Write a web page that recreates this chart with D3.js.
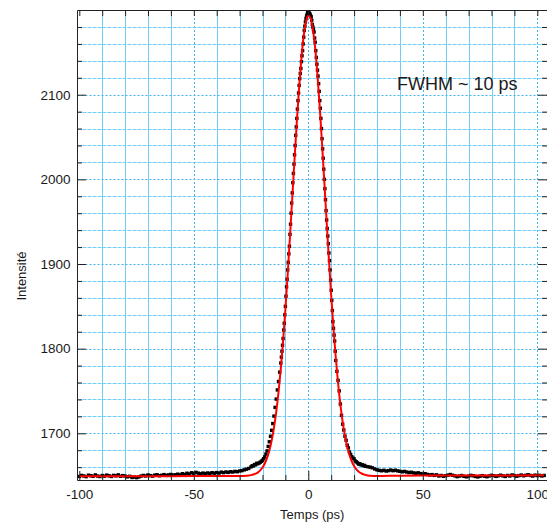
<!DOCTYPE html>
<html>
<head>
<meta charset="utf-8">
<script src="https://cdn.jsdelivr.net/npm/d3@7"></script>
<style>
  html, body { margin: 0; padding: 0; background: #fff; }
  svg { display: block; }
  text { font-family: "Liberation Sans", Arial, sans-serif; fill: #1a1a1a; }
</style>
</head>
<body>
<svg id="chart" width="547" height="525"></svg>
<script>
// ---------------- DATA ----------------
// sampling grid of the measured trace (ps): [start, end, step] per segment
const timeSegments = [[-100, -26, 1], [-25, -12.5, 0.5], [-12, 12, 0.25], [12.5, 25, 0.5], [26, 103, 1]];

// measured intensity, per segment
const baseLeft = [1649.0,1650.2,1649.6,1648.8,1650.5,1649.9,1649.2,1650.8,1649.5,1648.9,
  1650.1,1649.4,1650.6,1649.8,1649.0,1650.3,1649.7,1650.9,1649.3,1650.0,
  1649.5,1648.6,1649.2,1647.8,1648.3,1647.6,1648.4,1649.5,1650.2,1649.6,
  1650.8,1650.0,1649.4,1650.6,1651.0,1649.9,1650.4,1651.2,1650.3,1650.8,
  1651.4,1650.6,1651.0,1651.7,1650.9,1652.3,1651.5,1652.8,1652.0,1653.4,
  1652.6,1653.8,1652.9,1652.2,1653.0,1652.4,1653.1,1652.6,1653.5,1652.9,
  1653.6,1653.0,1654.1,1653.5,1654.3,1653.8,1654.6,1654.2,1655.0,1654.6,
  1655.5,1655.9,1656.8,1657.6,1658.5];
const wingLeft = [1660.4,1661.6,1661.5,1663.1,1662.8,1664.6,1664.0,1664.9,1665.8,1666.9,
  1668.2,1670.0,1672.2,1675.5,1679.2,1684.5,1690.0,1696.5,1703.5,1711.5,
  1720.3,1730.6,1740.4,1751.2,1761.2,1772.2];
const core = [1783,1790,1797,1804,1812,1822,1830,1840,
  1850,1862,1873,1882,1893,1902,1912,1921,
  1935,1947,1960,1972,1984,1996,2007,2018,
  2029,2040,2052,2062,2072,2083,2093,2102,
  2111,2119,2125,2131,2139,2146,2152,2160,
  2168,2176,2181,2186,2190,2193,2195,2197,
  2197,
  2198,2196,2195,2193,2192,2188,2183,2180,
  2177,2174,2167,2162,2152,2144,2136,2129,
  2122,2113,2104,2093,2084,2072,2060,2048,
  2036,2025,2012,2000,1989,1976,1963,1952,
  1942,1933,1924,1913,1904,1893,1881,1869,
  1857,1845,1832,1824,1816,1809,1797,1786];
const wingRight = [1773.2,1762.5,1750.1,1734.6,1721.2,1710.8,1703.9,1696.6,1691.8,1685.9,
  1682.7,1677.9,1675.0,1672.3,1670.6,1669.8,1667.2,1666.3,1665.0,1663.6,
  1664.1,1662.7,1663.0,1661.8,1662.1,1661.0];
const baseRight = [1660.5,1660.0,1659.2,1657.9,1656.8,1656.2,1655.7,1656.3,1655.4,1655.9,
  1656.6,1655.8,1656.4,1655.6,1655.1,1654.5,1655.0,1654.2,1653.6,1654.0,
  1653.2,1652.8,1653.3,1652.4,1651.9,1652.3,1651.4,1650.8,1651.2,1650.3,
  1650.9,1649.6,1650.2,1649.3,1649.9,1650.6,1651.3,1650.4,1649.7,1648.8,
  1649.5,1650.1,1649.2,1648.6,1649.4,1650.3,1649.8,1649.0,1648.5,1649.3,
  1650.0,1649.4,1648.7,1649.6,1650.4,1649.9,1649.1,1649.8,1650.5,1649.7,
  1649.0,1650.2,1649.6,1650.8,1650.1,1649.3,1650.0,1650.7,1649.8,1650.4,
  1651.0,1650.2,1649.5,1650.6,1650.0,1650.3,1649.6,1650.2];

// Gaussian fit (red curve)
const fitTimes = [-100, -60, -40,
  -30,-29,-28,-27,-26,-25,-24,-23,-22,-21,-20,-19,-18,-17,-16,-15,-14,-13,-12,-11,-10,
  -9,-8,-7,-6,-5,-4,-3,-2,-1,0,1,2,3,4,5,6,7,8,9,10,
  11,12,13,14,15,16,17,18,19,20,21,22,23,24,25,26,27,28,29,30,
  40, 60, 103];
const fitValues = [1649.3, 1649.4, 1649.5,
  1649.5,1649.5,1649.7,1649.9,1650.1,1650.6,1651.3,1652.3,1653.9,1656.2,1659.6,1664.3,1670.9,1679.7,1691.4,1706.4,1725.4,1748.8,1776.8,1809.5,1846.8,
  1888.0,1932.3,1978.3,2024.3,2068.6,2108.9,2143.4,2169.5,2186.5,2193.5,2190.5,2177.5,2155.2,2123.6,2085.3,2042.3,1996.8,1950.6,1905.4,1862.8,
  1823.9,1789.3,1759.4,1734.2,1713.5,1697.0,1684.0,1674.1,1666.7,1661.3,1657.4,1654.7,1652.9,1651.6,1650.8,1650.2,1649.9,1649.7,1649.5,1649.5,
  1649.9, 1650.1, 1650.3];

const xMajorTicks = [-100, -50, 0, 50, 100];
const xTickLabels = ["-100", "-50", "0", "50", "100"];
const yMajorTicks = [1700, 1800, 1900, 2000, 2100];
const yTickLabels = ["1700", "1800", "1900", "2000", "2100"];
const xMinorTicks = d3.range(-100, 101, 10);
const yMinorTicks = d3.range(1660, 2200, 20);
const xLabel = "Temps (ps)";
const yLabel = "Intensité";
const annotation = "FWHM ~ 10 ps";

// ---------------- BUILD ----------------
const seg = ([a, b, s]) => d3.range(Math.round((b - a) / s) + 1).map(i => +(a + i * s).toFixed(2));
const times = [].concat(...timeSegments.map(seg));
const values = [].concat(baseLeft, wingLeft, core, wingRight, baseRight);
const data = times.map((t, i) => ({ t, v: values[i] }));
const fit = fitTimes.map((t, i) => ({ t, v: fitValues[i] }));

const L = 77.5, R = 547, T = 10, B = 480.5;
const x = d3.scaleLinear().domain([-100, 100]).range([79.3, 537.3]);
const y = d3.scaleLinear().domain([1700, 2100]).range([433.3, 94.7]);

const svg = d3.select("#chart");
const defs = svg.append("defs");
defs.append("clipPath").attr("id", "clip").append("rect")
  .attr("x", L).attr("y", T).attr("width", R - L).attr("height", B - T);

// grid
const grid = svg.append("g");
const px = v => Math.round(x(v)) + 0.5;
const py = v => Math.round(y(v)) + 0.5;
const xGrid = d3.range(-90, 101, 10);
grid.selectAll(".vg").data(xGrid).join("line")
  .attr("x1", d => px(d)).attr("x2", d => px(d)).attr("y1", T).attr("y2", B)
  .attr("stroke", d => d % 50 === 0 ? "#3fb6ee" : "#74cdf7")
  .attr("stroke-width", 1)
  .attr("stroke-dasharray", d => d % 50 === 0 ? "2,2" : null);
grid.selectAll(".hg").data(yMinorTicks).join("line")
  .attr("y1", d => py(d)).attr("y2", d => py(d)).attr("x1", L).attr("x2", R)
  .attr("stroke", d => d % 100 === 0 ? "#3fb6ee" : "#74cdf7")
  .attr("stroke-width", 1)
  .attr("stroke-dasharray", d => d % 100 === 0 ? "2,2" : "4,1");

// data markers
const plot = svg.append("g").attr("clip-path", "url(#clip)");
const ms = 3.4;
plot.selectAll(".pt").data(data).join("rect")
  .attr("x", d => x(d.t) - ms / 2).attr("y", d => y(d.v) - ms / 2)
  .attr("width", ms).attr("height", ms).attr("fill", "#000");

// fit curve
plot.append("path").datum(fit)
  .attr("fill", "none").attr("stroke", "#ff0000").attr("stroke-width", 2)
  .attr("stroke-linejoin", "round")
  .attr("d", d3.line().x(d => x(d.t)).y(d => y(d.v)).curve(d3.curveMonotoneX));

// axes
const tickStyle = g => {
  g.select(".domain").remove();
  g.selectAll(".tick line").attr("stroke", "#222");
  g.selectAll(".tick text").style("font-size", "13.5px").attr("fill", "#1a1a1a");
};
const xMinorOnly = xMinorTicks.filter(d => !xMajorTicks.includes(d));
const yMinorOnly = yMinorTicks.filter(d => !yMajorTicks.includes(d));

svg.append("g").attr("transform", `translate(0,${B - 0.5})`)
  .call(d3.axisBottom(x).tickValues(xMinorOnly).tickSize(-5).tickFormat("")).call(tickStyle);
svg.append("g").attr("transform", `translate(0,${B - 0.5})`)
  .call(d3.axisBottom(x).tickValues(xMajorTicks).tickSize(-9).tickPadding(9.5)
    .tickFormat((d, i) => xTickLabels[i])).call(tickStyle);
svg.append("g").attr("transform", `translate(0,${T})`)
  .call(d3.axisTop(x).tickValues(xMinorTicks).tickSize(-6).tickFormat("")).call(tickStyle);

svg.append("g").attr("transform", `translate(${L - 0.5},0)`)
  .call(d3.axisLeft(y).tickValues(yMinorOnly).tickSize(-5).tickFormat("")).call(tickStyle);
svg.append("g").attr("transform", `translate(${L - 0.5},0)`)
  .call(d3.axisLeft(y).tickValues(yMajorTicks).tickSize(-9).tickPadding(6.5)
    .tickFormat((d, i) => yTickLabels[i])).call(tickStyle);
svg.append("g").attr("transform", `translate(${R},0)`)
  .call(d3.axisRight(y).tickValues(yMinorOnly).tickSize(-5).tickFormat("")).call(tickStyle);
svg.append("g").attr("transform", `translate(${R},0)`)
  .call(d3.axisRight(y).tickValues(yMajorTicks).tickSize(-9).tickFormat("")).call(tickStyle);

// frame
svg.append("path")
  .attr("d", `M${R},${T + 0.5}H${L}V${B}H${R}`)
  .attr("fill", "none").attr("stroke", "#222").attr("stroke-width", 1);

// labels
svg.append("text").attr("x", (L + R) / 2).attr("y", 519).attr("text-anchor", "middle")
  .style("font-size", "13px").text(xLabel);
svg.append("text").attr("transform", "translate(26,276) rotate(-90)").attr("text-anchor", "middle")
  .style("font-size", "13px").text(yLabel);
svg.append("text").attr("x", 397).attr("y", 90).style("font-size", "18px").text(annotation);
</script>
</body>
</html>
